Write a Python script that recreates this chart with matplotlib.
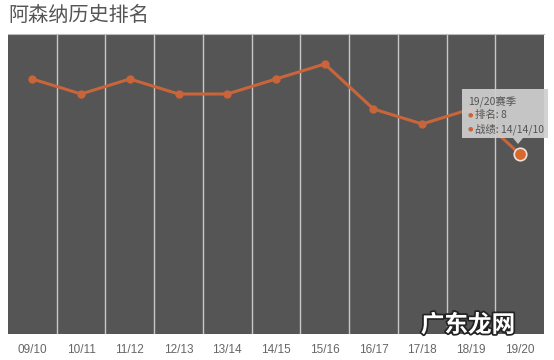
import matplotlib
matplotlib.use("Agg")
import matplotlib.pyplot as plt
import matplotlib.patheffects as pe
from matplotlib.patches import Rectangle, Polygon

plt.rcParams['font.family'] = ['Noto Sans CJK SC', 'DejaVu Sans']

# Données : classement d'Arsenal par saison
seasons = ["09/10", "10/11", "11/12", "12/13", "13/14", "14/15",
           "15/16", "16/17", "17/18", "18/19", "19/20"]
ranks = [3, 4, 3, 4, 4, 3, 2, 5, 6, 5, 8]
tip_title = "19/20赛季"
tip_lines = ["排名: 8", "战绩: 14/14/10"]

LINE = "#c9653a"
BG = "#555555"

fig = plt.figure(figsize=(5.54, 3.6), dpi=100)
ax = fig.add_axes([0.0144, 0.0722, 0.9676, 0.8334])
ax.set_facecolor(BG)

x = list(range(len(seasons)))
ax.set_xlim(-0.5, len(seasons) - 0.5)
ax.set_ylim(20, 0)

# séparateurs verticaux
for i in range(1, len(seasons)):
    ax.axvline(i - 0.5, color="#c8c8c8", lw=1, zorder=1)

ax.plot(x, ranks, color=LINE, lw=2.2, marker="o", ms=5, zorder=3)
ax.plot(x[-1], ranks[-1], "o", color="#d8692c", ms=9, mec="#f0e0d8", mew=1.2, zorder=4)

ax.set_xticks(x)
ax.set_xticklabels(seasons, color="#666666", fontsize=8.5, family="Liberation Sans")
ax.tick_params(axis="x", length=0, pad=7)
ax.set_yticks([])
for s in ["left", "right", "bottom"]:
    ax.spines[s].set_visible(False)
ax.spines["top"].set_color("#bbbbbb")

# infobulle
fig.patches.append(Rectangle((462, 222), 86, 49, transform=None,
                             facecolor="#cfcfcf", edgecolor="none",
                             alpha=0.92, zorder=5))
fig.patches.append(Polygon([(513, 222), (523, 222), (518, 216)], closed=True,
                           transform=None, facecolor="#cfcfcf", alpha=0.92,
                           edgecolor="none", zorder=5))
fig.text(468 / 554, 1 - 102 / 360, tip_title, fontsize=7.5, color="#555555",
         va="center", zorder=6)
for k, t in enumerate(tip_lines):
    yy = 1 - (115 + k * 14) / 360
    fig.text(468 / 554, yy, "●", fontsize=4.5, color="#c8663a", va="center",
             family="DejaVu Sans", zorder=6)
    fig.text(475 / 554, yy, t, fontsize=7.5, color="#555555", va="center", zorder=6)

# titre
fig.text(8 / 554, 1 - 15 / 360, "阿森纳历史排名", fontsize=14.5, color="#555555", va="center")

# filigrane
fig.text(468 / 554, 1 - 325 / 360, "广东龙网", fontsize=17, color="white", ha="center",
         va="center", fontweight="bold", zorder=6,
         path_effects=[pe.withStroke(linewidth=2.5, foreground="#222222")])

fig.savefig("out.png", dpi=100)
